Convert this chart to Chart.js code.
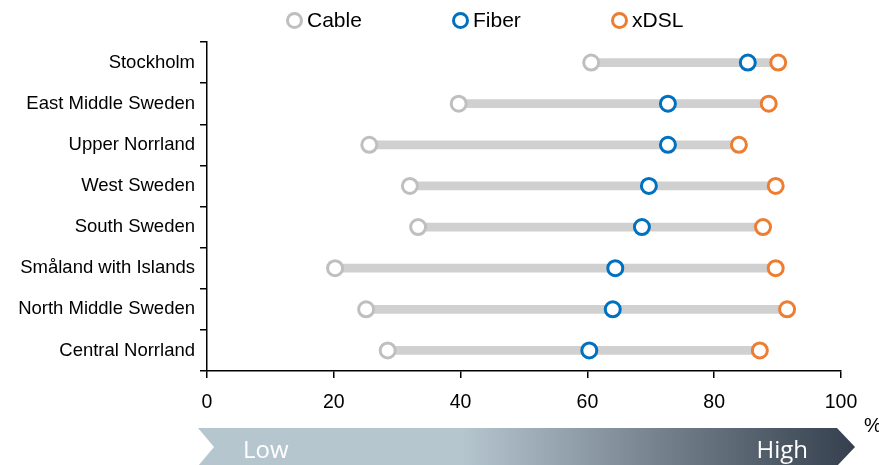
<!DOCTYPE html>
<html>
<head>
<meta charset="utf-8">
<script src="https://cdn.jsdelivr.net/npm/chart.js@4.4.0/dist/chart.umd.min.js"></script>
<style>
  body { margin: 0; background: #fff; }
  .wrap { position: relative; width: 879px; height: 465px; }
  .legend { position: absolute; top: 8px; left: 0; font-family: "Liberation Sans", Arial, sans-serif; font-size: 21px; color: #000; }
  .legend span.item { position: absolute; white-space: nowrap; display: flex; align-items: center; }
  .legend i { display: inline-block; width: 11px; height: 11px; border-radius: 50%; border: 3px solid; margin-right: 4px; background: #fff; }
</style>
</head>
<body>
<div class="wrap">
  <canvas id="chart" width="879" height="465"></canvas>
  <div class="legend" id="legend"></div>
</div>
<script>
const regions = ["Stockholm", "East Middle Sweden", "Upper Norrland", "West Sweden",
  "South Sweden", "Småland with Islands", "North Middle Sweden", "Central Norrland"];
const cable = [60.6, 39.7, 25.6, 32.0, 33.3, 20.2, 25.1, 28.5];
const fiber = [85.3, 72.7, 72.7, 69.7, 68.6, 64.4, 64.0, 60.3];
const xdsl  = [90.1, 88.6, 83.9, 89.7, 87.7, 89.7, 91.5, 87.2];
const xTicks = [0, 20, 40, 60, 80, 100];

const font = "'Liberation Sans', Arial, sans-serif";

// gray bar from lowest to highest value of each region
const ranges = regions.map((r, i) => [Math.min(cable[i], fiber[i], xdsl[i]), Math.max(cable[i], fiber[i], xdsl[i])]);

const series = [
  { label: "Cable", data: cable, color: "#bfbfbf" },
  { label: "Fiber", data: fiber, color: "#0070c0" },
  { label: "xDSL", data: xdsl, color: "#ed7d31" }
];

// Low -> High arrow under the axis
const arrowPlugin = {
  id: "arrow",
  afterDraw(chart) {
    const ctx = chart.ctx;
    const x = chart.scales.x;
    const left = x.getPixelForValue(0) - 9, right = x.getPixelForValue(100) - 4;
    const top = 428, bottom = 466, mid = (top + bottom) / 2;
    const grad = ctx.createLinearGradient(left, 0, right + 18, 0);
    grad.addColorStop(0, "#b6c6cf");
    grad.addColorStop(0.4, "#b6c6cf");
    grad.addColorStop(1, "#353f4d");
    ctx.save();
    ctx.beginPath();
    ctx.moveTo(left, top);
    ctx.lineTo(right, top);
    ctx.lineTo(right + 18, mid);
    ctx.lineTo(right, bottom);
    ctx.lineTo(left, bottom);
    ctx.lineTo(left + 16, mid);
    ctx.closePath();
    ctx.fillStyle = grad;
    ctx.fill();
    ctx.fillStyle = "#fff";
    ctx.font = "24px 'Open Sans', sans-serif";
    ctx.textBaseline = "middle";
    ctx.textAlign = "left";
    ctx.fillText("Low", 243, mid + 4);
    ctx.textAlign = "right";
    ctx.fillText("High", 808, mid + 4);
    ctx.fillStyle = "#000";
    ctx.font = "20px " + font;
    ctx.textAlign = "left";
    ctx.fillText("%", 864, 426);
    ctx.restore();
  }
};

new Chart(document.getElementById("chart"), {
  data: {
    labels: regions,
    datasets: [
      {
        type: "bar",
        label: "range",
        data: ranges,
        backgroundColor: "#d0d0d0",
        barThickness: 8,
        order: 4
      },
      ...series.map((s, i) => ({
        type: "line",
        label: s.label,
        data: s.data,
        showLine: false,
        pointStyle: "circle",
        pointRadius: 7.5,
        pointHoverRadius: 7.5,
        pointBorderWidth: 3,
        pointBackgroundColor: "#fff",
        pointBorderColor: s.color,
        borderColor: s.color,
        order: 3 - i
      }))
    ]
  },
  options: {
    indexAxis: "y",
    responsive: false,
    animation: false,
    layout: { padding: { top: 42, right: 38, left: 0, bottom: 0 } },
    plugins: { legend: { display: false }, tooltip: { enabled: false } },
    scales: {
      x: {
        type: "linear",
        min: 0,
        max: 100,
        afterBuildTicks: s => { s.ticks = xTicks.map(v => ({ value: v })); },
        afterFit: s => { s.height = 94; },
        grid: { drawOnChartArea: false, tickLength: 7, color: "#000", lineWidth: 1.5 },
        border: { color: "#000", width: 1.5 },
        ticks: { color: "#000", font: { family: font, size: 19.5 }, padding: 13, maxRotation: 0 }
      },
      y: {
        type: "category",
        offset: true,
        afterFit: s => { s.width = 207; },
        grid: { offset: true, drawOnChartArea: false, tickLength: 7, color: "#000", lineWidth: 1.5 },
        border: { color: "#000", width: 1.5 },
        ticks: { color: "#000", font: { family: font, size: 18.5 }, padding: 5 }
      }
    }
  },
  plugins: [arrowPlugin]
});

// legend
const legendPos = [286, 452, 611];
const legend = document.getElementById("legend");
series.forEach((s, i) => {
  const el = document.createElement("span");
  el.className = "item";
  el.style.left = legendPos[i] + "px";
  el.innerHTML = '<i style="border-color:' + s.color + '"></i>' + s.label;
  legend.appendChild(el);
});
</script>
</body>
</html>
